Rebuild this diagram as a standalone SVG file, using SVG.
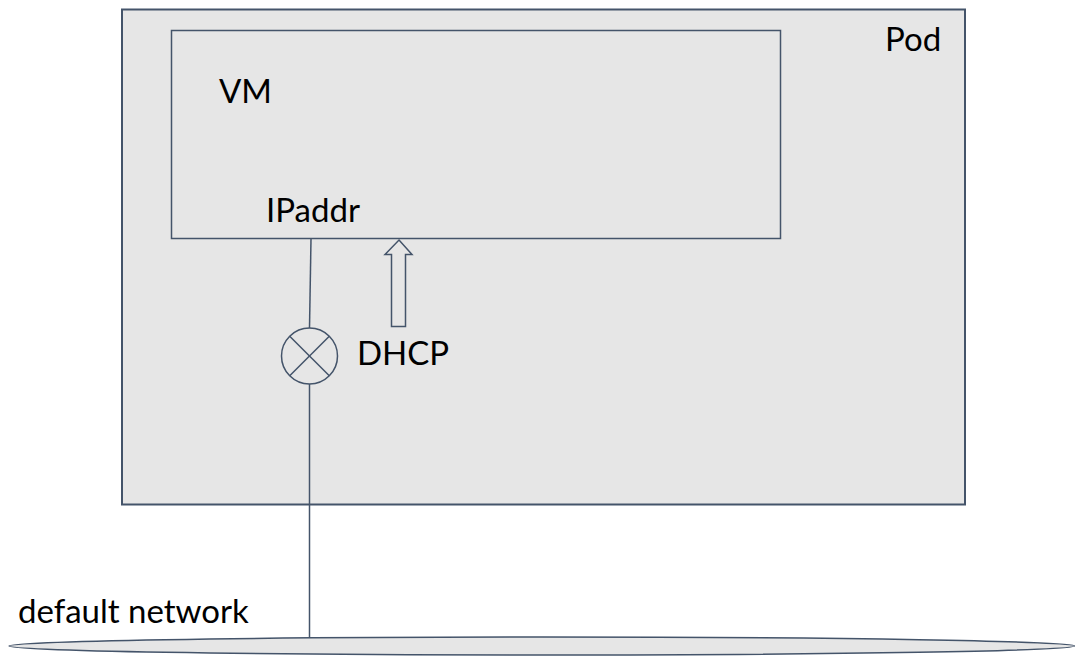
<svg xmlns="http://www.w3.org/2000/svg" width="1075" height="656" viewBox="0 0 1075 656">
  <style>
    .box { fill: #e6e6e6; stroke: #44546a; }
    .wire { fill: none; stroke: #44546a; stroke-width: 1.5; }
    .lbl { font-family: Lato, "Liberation Sans", sans-serif; font-size: 33px; fill: #000; }
  </style>
  <rect width="1075" height="656" fill="#ffffff"/>

  <!-- pod container -->
  <g id="pod">
    <rect class="box" x="122" y="9.5" width="843" height="495" stroke-width="2"/>
    <text class="lbl" x="885" y="51">Pod</text>
  </g>

  <!-- virtual machine -->
  <g id="vm">
    <rect class="box" x="171.5" y="30.5" width="609" height="208" stroke-width="1.5"/>
    <text class="lbl" x="219" y="103">VM</text>
    <text class="lbl" x="266" y="222">IPaddr</text>
  </g>

  <!-- bridge / switch point -->
  <g id="bridge">
    <circle class="wire" cx="309.5" cy="356" r="28"/>
    <line class="wire" x1="289.7" y1="336.2" x2="329.3" y2="375.8"/>
    <line class="wire" x1="329.3" y1="336.2" x2="289.7" y2="375.8"/>
  </g>

  <!-- DHCP label -->
  <g id="dhcp">
    <text class="lbl" x="357" y="365">DHCP</text>
  </g>

  <!-- default network -->
  <g id="network">
    <ellipse class="box" cx="542" cy="646" rx="533" ry="9" stroke-width="1.5"/>
    <text class="lbl" x="18" y="623">default network</text>
  </g>

  <!-- connectors -->
  <g id="connectors">
    <line class="wire" x1="311" y1="239" x2="309.5" y2="328"/>
    <line class="wire" x1="309.5" y1="384" x2="309.5" y2="637"/>
    <path class="wire" fill="#e6e6e6" d="M399 240 L412 254.5 L405.5 254.5 L405.5 326.5 L391.5 326.5 L391.5 254.5 L385 254.5 Z"/>
  </g>
</svg>
